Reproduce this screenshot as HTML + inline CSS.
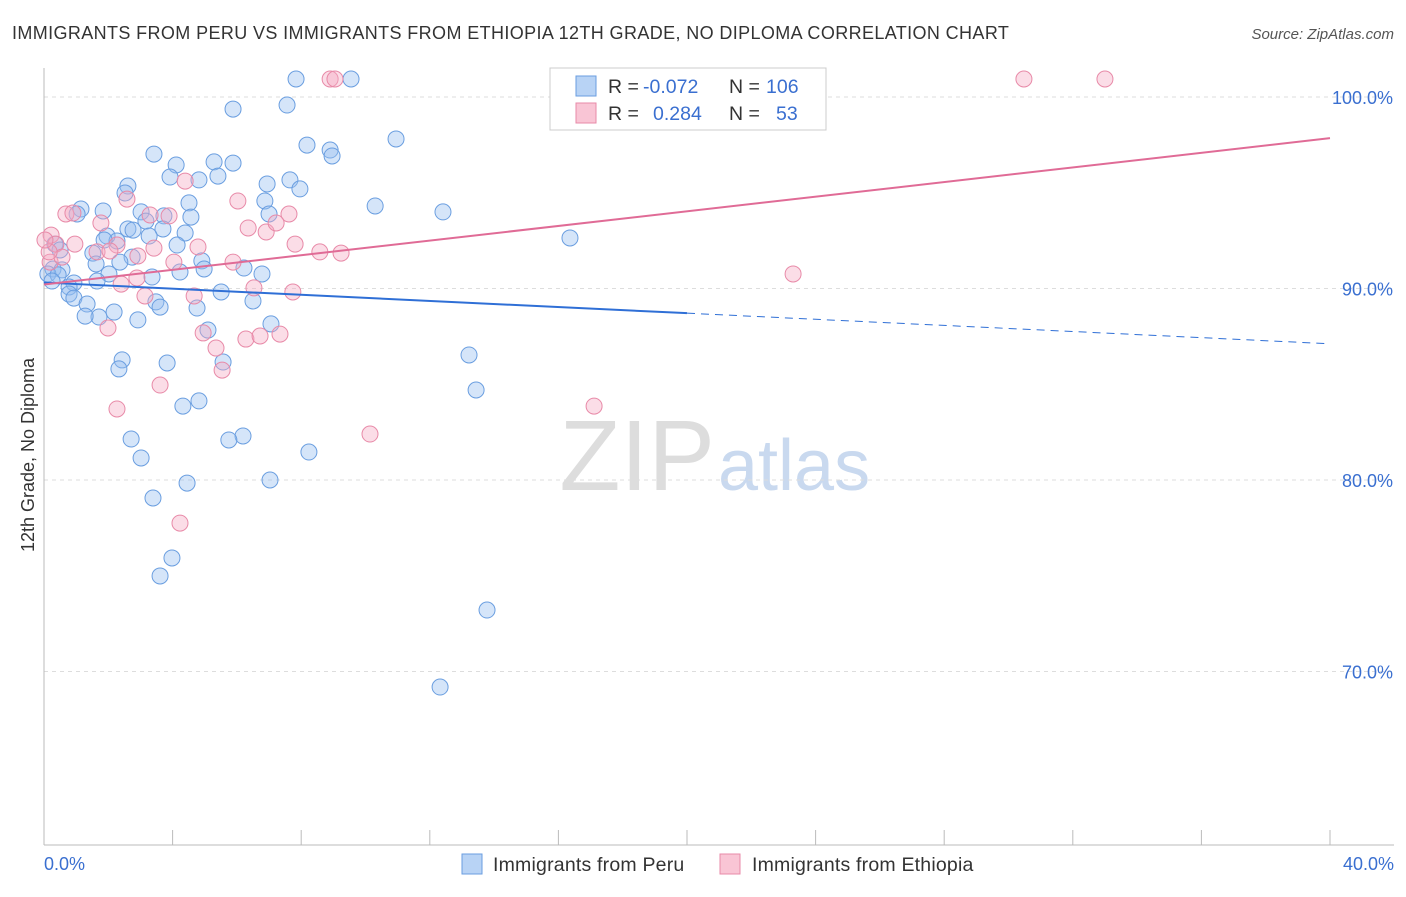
<!DOCTYPE html>
<html><head><meta charset="utf-8"><style>
body{margin:0;background:#fff;font-family:"Liberation Sans",sans-serif;}
svg text{font-family:"Liberation Sans",sans-serif;}
</style></head><body>
<svg id="chart" width="1406" height="892" xmlns="http://www.w3.org/2000/svg">
<text x="12" y="39" font-size="18" fill="#333" letter-spacing="0.38">IMMIGRANTS FROM PERU VS IMMIGRANTS FROM ETHIOPIA 12TH GRADE, NO DIPLOMA CORRELATION CHART</text>
<text x="1394" y="39" font-size="15" fill="#555" text-anchor="end" font-style="italic">Source: ZipAtlas.com</text>
<text x="715" y="490" font-size="100" fill="#ddd" text-anchor="end" font-family="Liberation Serif">ZIP</text>
<text x="718" y="490" font-size="72" fill="#c9d9ef">atlas</text>
<g id="grid"></g>
<g id="axes"></g>
<g id="pts"></g>
<g id="lines"></g>
<text transform="translate(34,455) rotate(-90)" font-size="18" fill="#333" text-anchor="middle">12th Grade, No Diploma</text>
<g>
<rect x="550" y="68" width="276" height="62" fill="#fff" stroke="#ccc"/>
<rect x="576" y="76" width="20" height="20" fill="#b8d3f5" stroke="#6a9ee0"/>
<rect x="576" y="103" width="20" height="20" fill="#f9c5d5" stroke="#e88aa8"/>
<text x="608" y="93" font-size="19.5" fill="#333">R =</text>
<text x="643" y="93" font-size="19.5" fill="#3a6fd0">-0.072</text>
<text x="729" y="93" font-size="19.5" fill="#333">N =</text>
<text x="766" y="93" font-size="19.5" fill="#3a6fd0">106</text>
<text x="608" y="120" font-size="19.5" fill="#333">R =</text>
<text x="653" y="120" font-size="19.5" fill="#3a6fd0">0.284</text>
<text x="729" y="120" font-size="19.5" fill="#333">N =</text>
<text x="776" y="120" font-size="19.5" fill="#3a6fd0">53</text>
</g>
<g>
<rect x="462" y="854" width="20" height="20" fill="#b8d3f5" stroke="#6a9ee0"/>
<text x="493" y="871" font-size="19.5" fill="#333" letter-spacing="0.2">Immigrants from Peru</text>
<rect x="720" y="854" width="20" height="20" fill="#f9c5d5" stroke="#e88aa8"/>
<text x="752" y="871" font-size="19.5" fill="#333" letter-spacing="0.2">Immigrants from Ethiopia</text>
</g>
</svg>
<script>
const peruX=[7.84,9.55,5.88,7.56,10.95,8.18,8.90,8.96,3.42,4.11,5.29,5.88,3.92,5.41,4.82,2.61,2.52,6.94,7.65,7.96,6.87,4.51,3.02,7.00,4.57,10.30,12.41,1.15,1.84,1.03,3.73,3.17,2.61,2.77,3.70,4.39,1.96,2.27,1.87,3.27,4.14,16.36,0.34,0.50,1.52,2.74,4.91,2.36,6.22,6.78,4.23,3.36,2.02,1.65,0.93,0.78,0.28,0.56,0.12,0.44,0.25,0.78,0.93,1.34,1.71,1.28,2.18,2.92,3.48,3.61,4.76,5.51,6.50,5.10,7.06,2.43,2.33,3.83,5.57,13.22,13.44,4.32,4.82,2.71,6.19,5.75,8.24,3.02,7.03,4.45,3.39,3.98,3.61,13.78,12.32,4.98,1.62];
const peruY=[100.94,100.94,99.37,99.58,97.81,97.49,97.23,96.92,97.02,96.45,96.61,96.55,95.82,95.87,95.67,95.35,94.99,95.46,95.67,95.20,94.57,94.47,94.00,93.89,93.73,94.31,94.00,94.15,94.05,93.89,93.79,93.52,93.11,93.05,93.11,92.90,92.74,92.48,92.53,92.74,92.27,92.64,92.32,92.01,91.85,91.64,91.44,91.38,91.07,90.76,90.86,90.60,90.76,90.39,90.29,90.08,91.02,90.97,90.76,90.71,90.39,89.71,89.50,89.19,88.51,88.56,88.77,88.36,89.30,89.03,88.98,89.82,89.35,87.83,88.15,86.27,85.80,86.11,86.16,86.53,84.70,83.86,84.13,82.14,82.30,82.09,81.46,81.15,80.00,79.84,79.06,75.93,74.99,73.21,69.19,91.02,91.28];
const ethX=[8.90,9.05,30.48,33.00,4.39,6.03,2.58,1.77,0.68,0.90,3.30,3.89,7.62,6.35,6.91,7.22,0.22,0.37,0.96,2.27,3.42,4.79,7.81,8.58,9.24,1.65,2.05,2.92,5.88,4.04,2.40,2.89,3.14,4.67,6.53,7.74,1.99,4.95,5.35,5.54,6.28,6.72,7.34,3.61,2.27,4.23,10.14,17.11,23.30,0.19,0.56,0.16,0.03];
const ethY=[100.94,100.94,100.94,100.94,95.61,94.57,94.67,93.42,93.89,93.94,93.84,93.79,93.89,93.16,92.95,93.42,92.79,92.32,92.32,92.27,92.11,92.17,92.32,91.91,91.85,91.91,91.96,91.70,91.38,91.38,90.23,90.55,89.61,89.61,90.03,89.82,87.94,87.68,86.89,85.74,87.36,87.52,87.62,84.96,83.71,77.75,82.40,83.86,90.76,91.38,91.64,91.91,92.53];
const yTicks=[100,90,80,70];
const yTickLabels=["100.0%","90.0%","80.0%","70.0%"];
const xTickVals=[0,4,8,12,16,20,24,28,32,36,40];
const peruTrend=[90.31,-0.0799]; // intercept, slope
const ethTrend=[90.21,0.191];
const peruSolidEnd=20;

const NS="http://www.w3.org/2000/svg";
const sx=v=>44+v*32.15;
const sy=v=>97+(100-v)*19.15;
function mk(tag,attrs,parent){const e=document.createElementNS(NS,tag);for(const k in attrs)e.setAttribute(k,attrs[k]);parent.appendChild(e);return e;}
const grid=document.getElementById('grid'),axes=document.getElementById('axes'),pts=document.getElementById('pts'),lines=document.getElementById('lines');
yTicks.forEach((t,i)=>{
  const g=mk('line',{x1:44,x2:1394,y1:sy(t),y2:sy(t),stroke:'#ddd','stroke-dasharray':'4,4'},grid);
  
  
  const tx=mk('text',{x:1393,y:sy(t)+7,'font-size':18,fill:'#3a6fd0','text-anchor':'end'},axes);
  tx.textContent=yTickLabels[i];
  
  
});
const xa=mk('line',{x1:44,x2:1394,y1:845,y2:845,stroke:'#bbb'},axes);


const ya=mk('line',{x1:44,x2:44,y1:68,y2:845,stroke:'#bbb'},axes);


xTickVals.forEach(v=>{
  if(v===0)return;
  const t=mk('line',{x1:sx(v),x2:sx(v),y1:830,y2:845,stroke:'#bbb'},axes);
  
  
});
const xl0=mk('text',{x:44,y:870,'font-size':18,fill:'#3a6fd0'},axes);xl0.textContent='0.0%';


const xl1=mk('text',{x:1394,y:870,'font-size':18,fill:'#3a6fd0','text-anchor':'end'},axes);xl1.textContent='40.0%';


peruX.forEach((x,i)=>{
  const c=mk('circle',{cx:sx(x),cy:sy(peruY[i]),r:8,fill:'rgba(150,190,240,0.4)',stroke:'#6a9ee0','stroke-width':1},pts);
  
  
});
ethX.forEach((x,i)=>{
  const c=mk('circle',{cx:sx(x),cy:sy(ethY[i]),r:8,fill:'rgba(245,170,195,0.4)',stroke:'#e88aa8','stroke-width':1},pts);
  
  
});
const pf=x=>peruTrend[0]+peruTrend[1]*x, ef=x=>ethTrend[0]+ethTrend[1]*x;
const l1=mk('line',{x1:sx(0),y1:sy(pf(0)),x2:sx(peruSolidEnd),y2:sy(pf(peruSolidEnd)),stroke:'#2f6fd6','stroke-width':2},lines);


const l2=mk('line',{x1:sx(peruSolidEnd),y1:sy(pf(peruSolidEnd)),x2:sx(40),y2:sy(pf(40)),stroke:'#2f6fd6','stroke-width':1,'stroke-dasharray':'8,6'},lines);


const l3=mk('line',{x1:sx(0),y1:sy(ef(0)),x2:sx(40),y2:sy(ef(40)),stroke:'#e06b96','stroke-width':2},lines);


</script>
</body></html>
